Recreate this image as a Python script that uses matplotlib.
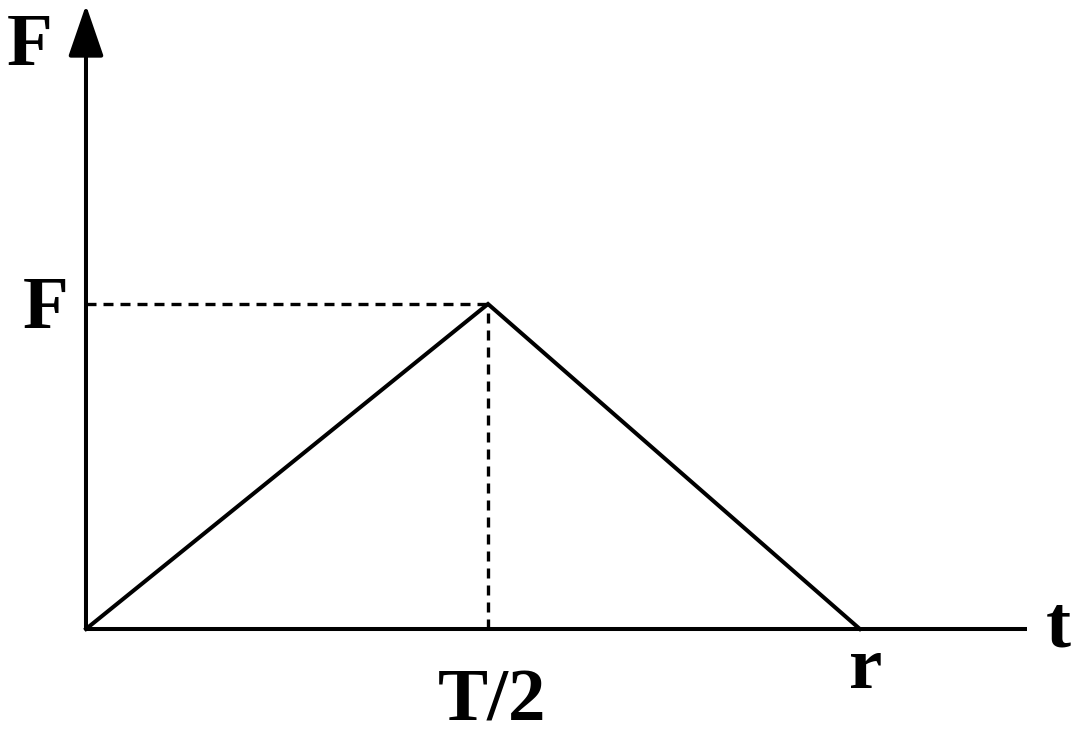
import matplotlib.pyplot as plt

# triangular force pulse: rises to F at T/2, back to zero at r
t_points = [0.0, 1.0, 1.925]
f_points = [0.0, 1.0, 0.0]
t_peak = 1.0
f_peak = 1.0
t_axis_end = 2.341
f_axis_end = 1.92

labels = {
    "F_axis": (-0.139, 1.735, "F"),
    "F_peak": (-0.0995, 0.926, "F"),
    "T_half": (1.010, -0.28, "T/2"),
    "r": (1.940, -0.1815, "r"),
    "t": (2.418, -0.055, "t"),
}

plt.rcParams['font.family'] = ['Liberation Serif', 'DejaVu Serif']

fig = plt.figure(figsize=(10.79, 7.49), dpi=100)
ax = fig.add_axes([0, 0, 1, 1])
ax.set_xlim(-0.2139, 2.4701)
ax.set_ylim(-0.3692, 1.9354)
ax.axis('off')

lw = 2.9

# axes
ax.plot([0, t_axis_end], [0, 0], color='black', lw=lw, solid_capstyle='butt')
ax.annotate('', xy=(0, f_axis_end), xytext=(0, 0),
            arrowprops=dict(arrowstyle='-|>,head_length=1.6,head_width=0.55',
                            mutation_scale=20, lw=lw, color='black',
                            shrinkA=0, shrinkB=0))

# dashed guides to the peak
ax.plot([0, t_peak], [f_peak, f_peak], color='black', lw=2.4,
        linestyle=(0, (3.0, 2.1)))
ax.plot([t_peak, t_peak], [0, f_peak], color='black', lw=2.4,
        linestyle=(0, (3.0, 2.1)))

# the pulse itself
ax.plot(t_points, f_points, color='black', lw=lw, solid_joinstyle='miter')

for key, (x, y, s) in labels.items():
    ax.text(x, y, s, fontsize=54, fontweight='bold', ha='center', va='baseline')

fig.savefig('out.png', dpi=100)
